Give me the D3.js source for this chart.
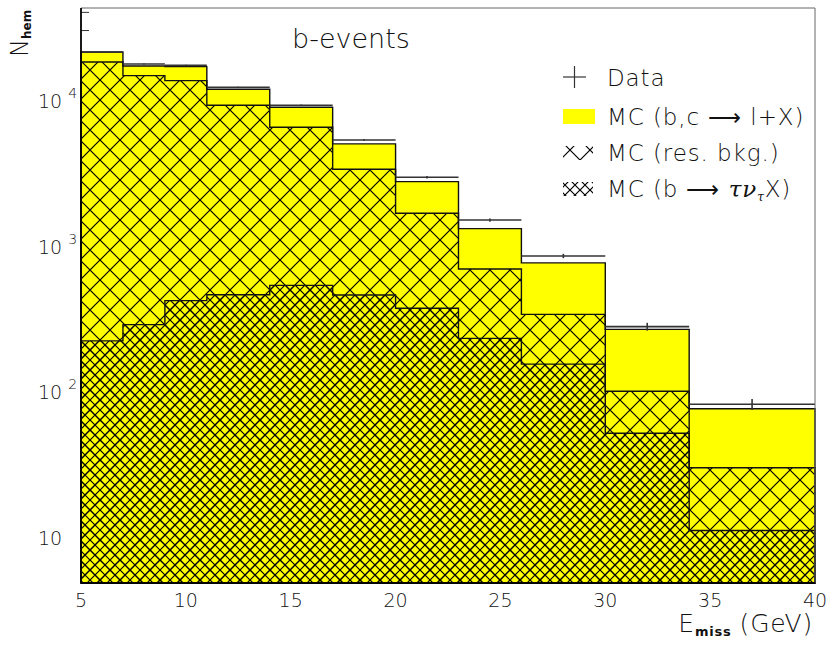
<!DOCTYPE html>
<html>
<head>
<meta charset="utf-8">
<script src="https://cdn.jsdelivr.net/npm/d3@7"></script>
<style>
  html, body { margin: 0; padding: 0; background: #fff; }
  svg { display: block; }
  text { font-family: "DejaVu Sans", "Lato", sans-serif; font-weight: 200; fill: #111; }
</style>
</head>
<body>
<svg id="chart" width="834" height="649"></svg>
<script>
// Bin edges of the missing-energy histogram (GeV)
const binEdges = [5, 7, 9, 11, 14, 17, 20, 23, 26, 30, 34, 40];
// Stacked MC: total (b,c -> l+X on top), residual background (incl. tau), b -> tau nu X
const mcTotal = [21400, 17100, 16950, 11840, 8910, 4990, 2745, 1305, 759, 265, 75.5];
const mcResBkg = [18240, 14700, 13580, 9200, 6490, 3340, 1664, 689, 336, 99.5, 29.7];
const mcTau = [221, 286, 418, 459, 532, 457, 370, 230, 153, 51.2, 11.0];
// Measured hemispheres and their statistical errors
const dataCounts = [21300, 17650, 17300, 12220, 9200, 5310, 2943, 1496, 847, 277, 81];
const dataErrors = [146, 133, 132, 111, 96, 73, 54, 39, 29, 17, 7];
// Axis ticks
const xTicks = [5, 10, 15, 20, 25, 30, 35, 40];
const yTicks = [10, 100, 1000, 10000];
const yTickExponents = ["", "2", "3", "4"];
const yMinorTicks = [30000, 40000];

const svg = d3.select("#chart");
const plot = { left: 81, right: 815, top: 8, bottom: 583 };

const x = d3.scaleLinear().domain([5, 40]).range([plot.left, plot.right]);
const y = d3.scaleLog().domain([4.79, 42860]).range([plot.bottom, plot.top]);

// Cross-hatch fill patterns
const defs = svg.append("defs");
function hatch(id, size, width) {
  const p = defs.append("pattern")
    .attr("id", id)
    .attr("patternUnits", "userSpaceOnUse")
    .attr("width", size).attr("height", size);
  p.append("path")
    .attr("d", `M${-size / 4},${-size / 4}L${size * 1.25},${size * 1.25}M${-size / 4},${size * 1.25}L${size * 1.25},${-size / 4}`)
    .attr("stroke", "#000").attr("stroke-width", width).attr("fill", "none");
}
hatch("hatchBig", 20, 1.2);
hatch("hatchFine", 10, 1.2);

// Minor ticks on the left axis (only those above the histogram stay visible)
svg.append("g").selectAll("line")
  .data(yMinorTicks).join("line")
  .attr("x1", plot.left).attr("x2", plot.left + 8)
  .attr("y1", d => y(d)).attr("y2", d => y(d))
  .attr("stroke", "#333").attr("stroke-width", 1);

// Histogram shapes as step areas
function binPoints(vals) {
  const pts = vals.map((v, i) => [binEdges[i], v]);
  pts.push([binEdges[binEdges.length - 1], vals[vals.length - 1]]);
  return pts;
}
const area = d3.area()
  .curve(d3.curveStepAfter)
  .x(d => x(d[0]))
  .y0(plot.bottom)
  .y1(d => y(d[1]));

const hists = svg.append("g");
hists.append("path").attr("d", area(binPoints(mcTotal)))
  .attr("fill", "#ffff00").attr("stroke", "#111").attr("stroke-width", 1.4);
hists.append("path").attr("d", area(binPoints(mcResBkg)))
  .attr("fill", "url(#hatchBig)").attr("stroke", "#111").attr("stroke-width", 1.4);
hists.append("path").attr("d", area(binPoints(mcTau)))
  .attr("fill", "url(#hatchFine)").attr("stroke", "#111").attr("stroke-width", 1.4);

// Data points: bin-wide horizontal bar plus vertical error bar
const dataG = svg.append("g").attr("stroke", "#333").attr("stroke-width", 1.6);
dataCounts.forEach((d, i) => {
  const x0 = x(binEdges[i]), x1 = x(binEdges[i + 1]);
  const xc = x((binEdges[i] + binEdges[i + 1]) / 2);
  dataG.append("line").attr("x1", x0).attr("x2", x1).attr("y1", y(d)).attr("y2", y(d));
  dataG.append("line").attr("x1", xc).attr("x2", xc)
    .attr("y1", y(d + dataErrors[i])).attr("y2", y(d - dataErrors[i]));
});

// Frame
svg.append("line").attr("x1", plot.left).attr("x2", plot.right)
  .attr("y1", plot.top).attr("y2", plot.top).attr("stroke", "#666").attr("stroke-width", 1);
svg.append("line").attr("x1", plot.right).attr("x2", plot.right)
  .attr("y1", plot.top).attr("y2", plot.bottom).attr("stroke", "#666").attr("stroke-width", 1);
svg.append("line").attr("x1", plot.left).attr("x2", plot.left)
  .attr("y1", plot.top).attr("y2", plot.bottom).attr("stroke", "#000").attr("stroke-width", 1.8);
svg.append("line").attr("x1", plot.left).attr("x2", plot.right)
  .attr("y1", plot.bottom).attr("y2", plot.bottom).attr("stroke", "#000").attr("stroke-width", 1.8);

// X tick labels
svg.append("g").selectAll("text")
  .data(xTicks).join("text")
  .attr("x", d => x(d)).attr("y", 607)
  .attr("text-anchor", "middle").attr("font-size", 19)
  .text(d => d);

// Y tick labels: 10, 10^2, 10^3, 10^4
const yl = svg.append("g").selectAll("text")
  .data(yTicks).join("text")
  .attr("x", 38).attr("y", d => y(d) + 8.5)
  .attr("font-size", 19);
yl.append("tspan").text("10");
yl.append("tspan")
  .attr("dx", 6).attr("dy", -10).attr("font-size", 14)
  .text((d, i) => yTickExponents[i]);

// Axis titles
const xt = svg.append("text").attr("x", 813).attr("y", 632)
  .attr("text-anchor", "end").attr("font-size", 25).attr("letter-spacing", 0.8);
xt.append("tspan").text("E");
xt.append("tspan").attr("font-size", 13).attr("font-weight", 700).attr("dy", 4).text("miss");
xt.append("tspan").attr("dy", -4).attr("dx", 8).text("(GeV)");

const ytl = svg.append("text").attr("transform", "translate(28,57) rotate(-90)")
  .attr("font-size", 24);
ytl.append("tspan").text("N");
ytl.append("tspan").attr("font-size", 12).attr("font-weight", 700).attr("dy", 3).text("hem");

// Panel label
svg.append("text").attr("x", 292).attr("y", 48).attr("font-size", 27).text("b-events");

// Legend
const legend = svg.append("g");
legend.append("line").attr("x1", 563).attr("x2", 586).attr("y1", 77).attr("y2", 77)
  .attr("stroke", "#333").attr("stroke-width", 1.2);
legend.append("line").attr("x1", 574.5).attr("x2", 574.5).attr("y1", 66).attr("y2", 88)
  .attr("stroke", "#333").attr("stroke-width", 1.2);

const legendText = legend.append("g").attr("font-size", 23).attr("letter-spacing", 0.9);
legendText.append("text").attr("x", 607).attr("y", 86).text("Data");

legend.append("rect").attr("x", 563).attr("y", 109).attr("width", 32).attr("height", 15)
  .attr("fill", "#ffff00");
legendText.append("text").attr("x", 607).attr("y", 125).text("MC (b,c ⟶ l+X)");

legend.append("rect").attr("x", 563).attr("y", 146).attr("width", 30).attr("height", 14)
  .attr("fill", "url(#hatchBig)");
legendText.append("text").attr("x", 607).attr("y", 161).text("MC (res. bkg.)");

legend.append("rect").attr("x", 563).attr("y", 182).attr("width", 30).attr("height", 14)
  .attr("fill", "url(#hatchFine)");
const l4 = legendText.append("text").attr("x", 607).attr("y", 197);
l4.append("tspan").text("MC (b ⟶ ");
l4.append("tspan").attr("font-family", "DejaVu Serif").attr("font-style", "italic")
  .attr("font-weight", 400).text("τν");
l4.append("tspan").attr("font-family", "DejaVu Serif").attr("font-style", "italic")
  .attr("font-weight", 400).attr("font-size", 12).attr("dy", 4).text("τ");
l4.append("tspan").attr("dy", -4).text("X)");
</script>
</body>
</html>
